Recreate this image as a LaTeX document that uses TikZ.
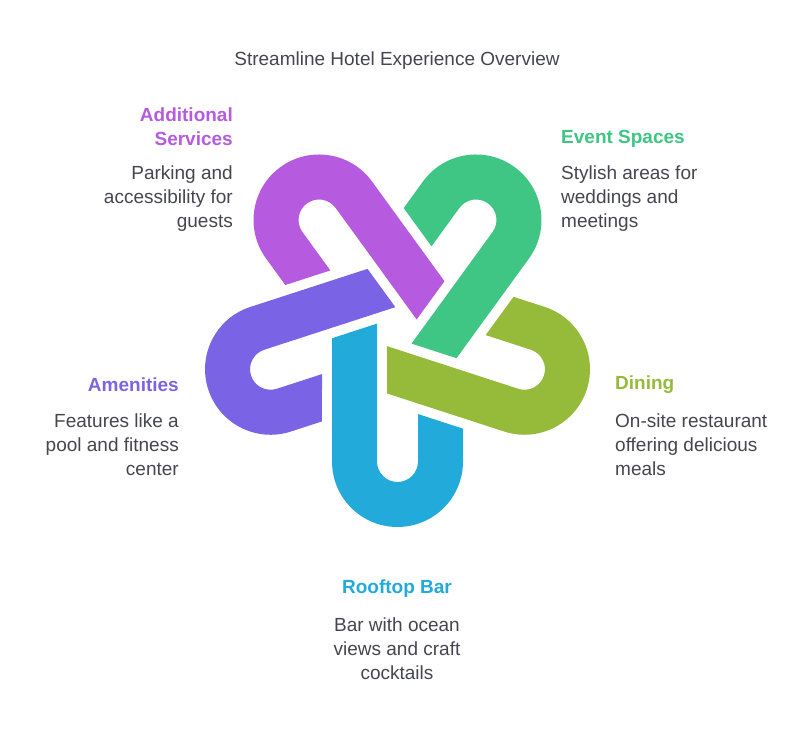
\documentclass[tikz,border=0pt]{standalone}
\usepackage{fontspec}
\setmainfont{Liberation Sans}
\usetikzlibrary{positioning}
\definecolor{cblue}{HTML}{22AADB}
\definecolor{colive}{HTML}{96BB3A}
\definecolor{cgreen}{HTML}{3FC584}
\definecolor{cpurple}{HTML}{B65BE0}
\definecolor{cindigo}{HTML}{7B63E6}
\definecolor{ctext}{HTML}{45454F}
\tikzset{
  head/.style={font=\fontsize{19}{24}\selectfont\bfseries, inner sep=0pt},
  body/.style={font=\fontsize{19}{24}\selectfont, text=ctext, inner sep=0pt},
  link/.style={fill=#1, draw=none}
}
\newcommand\HairPin[2]{%
  \fill[link=#2, rotate around={#1:(ctr)}, shift={(ctr)}]
    (-65.5,-133.5) -- (-65.5,-10.25) -- (-20.5,4.38) -- (-20.5,-133.5)
    arc (180:360:20.5) -- (20.5,-86.05) -- (65.5,-100.7) -- (65.5,-133.5)
    arc (0:-180:65.5) -- cycle;
}
\begin{document}
\begin{tikzpicture}[x=1pt, y=1pt]
    \useasboundingbox (0,0) rectangle (806,734);
    \coordinate (ctr) at (397.5,406);

    \HairPin{0}{cblue}
    \HairPin{72}{colive}
    \HairPin{144}{cgreen}
    \HairPin{216}{cpurple}
    \HairPin{288}{cindigo}

    \node[body] (title) at (397,673) {Streamline Hotel Experience Overview};

    \node[head, text=cpurple, align=right, anchor=east] (addh) at (233,607) {Additional\\Services};
    \node[body, align=right, anchor=east] (addb) at (233,535) {Parking and\\accessibility for\\guests};

    \node[head, text=cgreen, anchor=west] (evth) at (561,595) {Event Spaces};
    \node[body, align=left, anchor=west] (evtb) at (561,535) {Stylish areas for\\weddings and\\meetings};

    \node[head, text=cindigo, anchor=east] (amnh) at (179,349) {Amenities};
    \node[body, align=right, anchor=east] (amnb) at (179,289) {Features like a\\pool and fitness\\center};

    \node[head, text=colive, anchor=west] (dinh) at (615,349) {Dining};
    \node[body, align=left, anchor=west] (dinb) at (615,289) {On-site restaurant\\offering delicious\\meals};

    \node[head, text=cblue] (barh) at (397,145) {Rooftop Bar};
    \node[body, align=center] (barb) at (397,85) {Bar with ocean\\views and craft\\cocktails};
\end{tikzpicture}
\end{document}
